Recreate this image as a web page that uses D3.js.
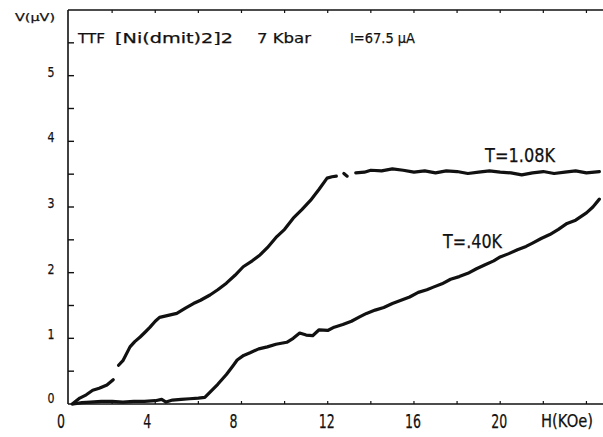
<!DOCTYPE html>
<html>
<head>
<meta charset="utf-8">
<script src="https://cdn.jsdelivr.net/npm/d3@7"></script>
<style>
  html, body { margin: 0; padding: 0; background: #fff; }
  svg { display: block; }
  text { font-family: "DejaVu Sans", sans-serif; fill: #111; stroke: #111; stroke-width: 0.25; }
</style>
</head>
<body>
<svg id="chart" width="603" height="437"></svg>
<script>
// ---- data ----
const xTickValues = [0, 4, 8, 12, 16, 20];
const yTickValues = [0, 1, 2, 3, 4, 5];
const xMinorTicks = [2, 4, 6, 8, 10, 12, 14, 16, 18, 20, 22, 24];
const yMinorTicks = [0.5, 1, 1.5, 2, 2.5, 3, 3.5, 4, 4.5, 5, 5.5];

const titleParts = ["TTF", "[Ni(dmit)2]2", "7 Kbar", "I=67.5 µA"];
const yAxisTitle = "V(µV)";
const xAxisTitle = "H(KOe)";
const seriesNames = ["T=1.08K", "T=.40K"];

// T = 1.08 K   (H in kOe, V in µV; null = gap in the trace)
const hHigh = [0.15, 0.5, 0.8, 1.1, 1.4, 1.76, 2.05, null,
  2.3, 2.5, 2.83, 3.05, 3.3, 3.55, 3.76, 4.0, 4.2, 4.6, 5.0, 5.4, 5.77, 6.1, 6.54, 6.9,
  7.3, 7.7, 8.08, 8.5, 8.86, 9.2, 9.64, 10.0, 10.4, 10.8, 11.2, 11.6, 11.97, 12.2, 12.4, null,
  12.75, 12.9, null,
  13.3, 13.7, 14.0, 14.5, 15.0, 15.5, 16.0, 16.5, 17.0, 17.5, 18.0, 18.5, 19.0, 19.5,
  20.0, 20.5, 21.0, 21.5, 22.0, 22.5, 23.0, 23.5, 24.0, 24.6];
const vHigh = [0.0, 0.09, 0.14, 0.21, 0.24, 0.29, 0.37, null,
  0.59, 0.66, 0.87, 0.95, 1.02, 1.10, 1.17, 1.26, 1.32, 1.35, 1.38, 1.46, 1.53, 1.58, 1.66, 1.74,
  1.84, 1.96, 2.09, 2.18, 2.27, 2.38, 2.55, 2.66, 2.83, 2.96, 3.10, 3.27, 3.44, 3.46, 3.47, null,
  3.51, 3.47, null,
  3.52, 3.53, 3.56, 3.55, 3.58, 3.56, 3.53, 3.55, 3.52, 3.55, 3.54, 3.51, 3.53, 3.55,
  3.53, 3.52, 3.49, 3.52, 3.54, 3.51, 3.53, 3.55, 3.52, 3.54];

// T = 0.40 K
const hLow = [0.2, 0.6, 1.0, 1.5, 2.0, 2.5, 3.0, 3.5, 4.0, 4.3, 4.5, 4.8, 5.2, 5.6, 6.0, 6.3,
  6.6, 6.9, 7.3, 7.6, 7.8, 8.1, 8.4, 8.8, 9.2, 9.6, 10.1, 10.4, 10.7, 11.0, 11.3, 11.6, 12.0,
  12.3, 12.7, 13.1, 13.5, 13.8, 14.2, 14.6, 15.0, 15.4, 15.8, 16.2, 16.6, 16.9, 17.3, 17.7,
  18.1, 18.5, 18.9, 19.3, 19.7, 20.0, 20.4, 20.8, 21.2, 21.5, 21.9, 22.3, 22.7, 23.1, 23.5,
  24.0, 24.3, 24.6];
const vLow = [0.0, 0.02, 0.03, 0.04, 0.04, 0.03, 0.04, 0.04, 0.05, 0.07, 0.03, 0.06, 0.07, 0.08, 0.09, 0.10,
  0.20, 0.30, 0.45, 0.58, 0.67, 0.74, 0.78, 0.84, 0.87, 0.91, 0.94, 1.00, 1.08, 1.05, 1.04, 1.13, 1.12,
  1.17, 1.21, 1.26, 1.33, 1.38, 1.43, 1.47, 1.53, 1.58, 1.63, 1.70, 1.74, 1.78, 1.83, 1.90,
  1.94, 1.99, 2.06, 2.12, 2.18, 2.24, 2.29, 2.35, 2.40, 2.45, 2.52, 2.58, 2.66, 2.75, 2.80,
  2.91, 3.00, 3.12];

// label anchor positions in data units
const labelH = [19.3, 17.35];
const labelV = [3.68, 2.37];

// ---- drawing ----
const svg = d3.select("#chart");
const x = d3.scaleLinear().domain([0, 25]).range([69, 608]);
const y = d3.scaleLinear().domain([0, 6]).range([404, 10]);

const ink = "#111";

// frame: left axis, bottom axis, top border, right border (off-canvas)
const frame = svg.append("g").attr("stroke", ink).attr("stroke-width", 1.6).attr("fill", "none");
frame.append("path").attr("d", `M${x(0)-1},${y(6)}V${y(0)}`);
frame.append("path").attr("d", `M${x(0)-1},${y(0)}H${x(25)}`);
frame.append("path").attr("d", `M${x(0)-1},${y(6)}H${x(25)}`);
frame.append("path").attr("d", `M${x(25)},${y(6)}V${y(0)}`);

// y ticks (inward, pointing right)
svg.append("g").selectAll("line").data(yMinorTicks).join("line")
  .attr("x1", x(0) - 1).attr("x2", x(0) + 5)
  .attr("y1", d => y(d)).attr("y2", d => y(d))
  .attr("stroke", ink).attr("stroke-width", 1.4);

// x ticks on bottom (pointing up) and top (pointing down)
svg.append("g").selectAll("line").data(xMinorTicks).join("line")
  .attr("x1", d => x(d)).attr("x2", d => x(d))
  .attr("y1", y(0)).attr("y2", y(0) - 3)
  .attr("stroke", ink).attr("stroke-width", 1.2);
svg.append("g").selectAll("line").data(xMinorTicks).join("line")
  .attr("x1", d => x(d)).attr("x2", d => x(d))
  .attr("y1", y(6)).attr("y2", y(6) + 3)
  .attr("stroke", ink).attr("stroke-width", 1.2);

// y tick labels
svg.append("g").selectAll("text").data(yTickValues).join("text")
  .attr("x", 51).attr("y", d => y(d) + (d === 0 ? -1 : 1))
  .attr("text-anchor", "middle")
  .attr("font-size", 14)
  .attr("textLength", 7).attr("lengthAdjust", "spacingAndGlyphs")
  .text(d => d);

// x tick labels
svg.append("g").selectAll("text").data(xTickValues).join("text")
  .attr("x", d => x(d) + (d < 10 ? -8 : -1))
  .attr("y", 428)
  .attr("text-anchor", "middle")
  .attr("font-size", 19)
  .attr("textLength", d => (String(d).length === 1 ? 8 : 16))
  .attr("lengthAdjust", "spacingAndGlyphs")
  .text(d => d);

// axis titles
svg.append("text").attr("x", 15).attr("y", 21).attr("font-size", 11)
  .attr("textLength", 40).attr("lengthAdjust", "spacingAndGlyphs").text(yAxisTitle);
svg.append("text").attr("x", 541).attr("y", 427).attr("font-size", 17)
  .attr("textLength", 52).attr("lengthAdjust", "spacingAndGlyphs").text(xAxisTitle);

// title pieces
const titleX = [78, 115, 257, 350];
const titleW = [27, 118, 54, 65];
svg.append("g").selectAll("text").data(titleParts).join("text")
  .attr("x", (d, i) => titleX[i]).attr("y", 43)
  .attr("font-size", 14)
  .attr("textLength", (d, i) => titleW[i]).attr("lengthAdjust", "spacingAndGlyphs")
  .text(d => d);

// curves
const line = d3.line()
  .defined(d => d.v !== null)
  .x(d => x(d.h)).y(d => y(d.v));

const series = [
  hHigh.map((h, i) => ({ h, v: h === null ? null : vHigh[i] })),
  hLow.map((h, i) => ({ h, v: vLow[i] }))
];

svg.append("g").selectAll("path").data(series).join("path")
  .attr("d", line)
  .attr("fill", "none").attr("stroke", ink)
  .attr("stroke-width", 3.2)
  .attr("stroke-linejoin", "round").attr("stroke-linecap", "round");

// curve labels
const labelW = [70, 59];
svg.append("g").selectAll("text").data(seriesNames).join("text")
  .attr("x", (d, i) => x(labelH[i])).attr("y", (d, i) => y(labelV[i]))
  .attr("font-size", 19)
  .attr("textLength", (d, i) => labelW[i]).attr("lengthAdjust", "spacingAndGlyphs")
  .text(d => d);
</script>
</body>
</html>
